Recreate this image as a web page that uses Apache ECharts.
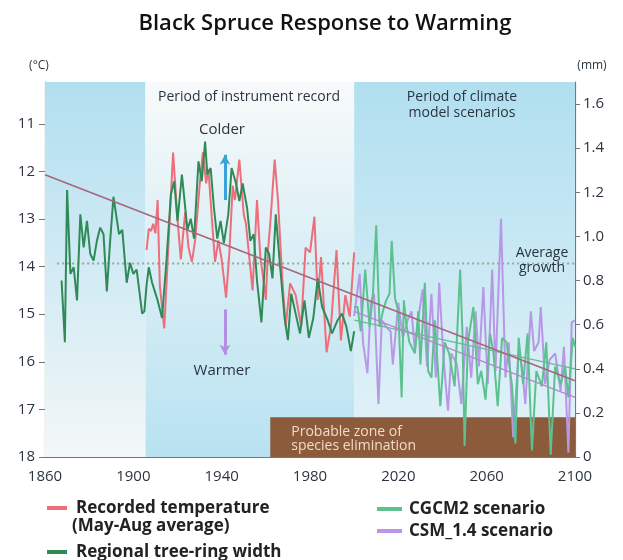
<!DOCTYPE html>
<html><head><meta charset="utf-8">
<script src="https://cdn.jsdelivr.net/npm/echarts@6/dist/echarts.min.js"></script>
<style>html,body{margin:0;padding:0;background:#fff}#c{width:623px;height:560px}</style>
</head><body><div id="c"></div>
<script>
// ---- data ----
const xTickYears = [1860, 1900, 1940, 1980, 2020, 2060, 2100];
const tempTicks = [11, 12, 13, 14, 15, 16, 17, 18];
const mmTicks = [0, 0.2, 0.4, 0.6, 0.8, 1.0, 1.2, 1.4, 1.6];

const tempYears = [1906,1907,1908,1909,1910,1911,1912,1914,1916,1918,1920,1921.5,1923.5,1925,1926.5,1928,1930,1931.5,1933,1934,1935.5,1937,1938.5,1940,1942,1943.5,1945,1946,1948,1950,1951,1952.5,1954,1956,1957.5,1959,1960,1961,1962,1964,1965.5,1967.5,1969,1971,1973.5,1976,1978,1980,1982,1983.5,1985,1987.5,1989.5,1992,1994,1996,1998,2000];
const tempValues = [13.65,13.2,13.25,13.1,13.3,12.6,14.4,15.3,13.45,11.6,13.0,13.85,12.85,13.6,13.9,13.45,12.3,11.6,12.25,11.95,12.95,13.9,13.45,13.85,14.65,13.7,12.3,12.6,11.75,12.9,13.1,13.8,14.5,12.6,13.8,14.3,14.7,13.65,13.1,11.75,12.6,14.3,15.25,14.35,14.6,15.25,13.6,13.7,12.95,14.7,13.8,15.8,15.25,13.65,15.55,14.6,15.05,13.7];

const ringYears = [1867.5,1869,1870,1871.5,1873,1874.5,1876,1877.5,1879,1880.5,1882,1883.5,1885,1886.5,1888,1889.5,1891,1893.5,1895,1897,1898.5,1900,1901.5,1904,1905,1906,1907,1908.5,1911,1913,1915,1917,1918.5,1920,1922,1924.5,1926,1927.5,1929.5,1931,1932.5,1933.5,1935,1936.5,1938,1939.5,1941,1943,1944.5,1946.5,1948,1949.5,1951.5,1953,1954.5,1956,1958,1960,1961.5,1963,1964.5,1966.5,1968.5,1970,1971.5,1973.5,1975.5,1977.5,1979.5,1981.5,1983.5,1985.5,1988,1990,1992.5,1994.5,1996.5,1998.5,2000];
const ringValues = [0.80,0.52,1.21,0.83,0.86,0.71,1.10,0.95,1.07,0.92,0.89,0.98,1.04,1.01,0.75,0.98,1.18,1.01,1.03,0.79,0.88,0.83,0.85,0.65,0.66,0.78,0.86,0.79,0.71,0.63,0.89,1.19,1.25,1.07,1.28,1.03,1.08,0.99,1.34,1.25,1.43,1.28,1.31,1.13,0.99,1.07,0.97,1.10,1.31,1.24,1.16,1.24,1.13,0.98,1.01,0.80,0.61,0.95,0.92,0.81,1.10,0.86,0.63,0.53,0.74,0.65,0.56,0.71,0.54,0.63,0.81,0.68,0.62,0.56,0.62,0.65,0.59,0.48,0.57];

const cgcmYears = [2000,2001.5,2003,2005,2007,2008.5,2010,2011.5,2013,2014.5,2016,2017,2018.5,2020,2021.5,2022.5,2023.5,2025,2027.5,2029,2030,2032,2033.5,2035,2036.5,2039,2041,2043,2045.5,2048,2049,2050,2051.5,2054,2056,2057.5,2059.5,2061.5,2063,2065,2067,2069,2071.5,2073,2074.5,2076.5,2078.5,2080.5,2082.5,2085,2087,2089,2091,2093.5,2095.5,2097,2099,2100];
const cgcmValues = [0.68,0.68,0.57,0.85,0.59,0.74,1.05,0.59,0.66,0.71,0.74,0.98,0.72,0.66,0.27,0.71,0.61,0.52,0.47,0.66,0.42,0.79,0.39,0.36,0.62,0.23,0.52,0.47,0.32,0.85,0.57,0.05,0.52,0.68,0.33,0.39,0.26,0.56,0.48,0.23,0.54,0.52,0.32,0.06,0.54,0.33,0.56,0.03,0.39,0.32,0.52,0.01,0.41,0.33,0.41,0.27,0.54,0.50];

const csmYears = [2000,2002.5,2004,2006,2007.5,2009,2011,2012.5,2014.5,2016.5,2017.5,2020,2022,2024.5,2026,2027.5,2029.5,2031,2033,2035,2037,2038.5,2040.5,2042.5,2044,2046.5,2048.5,2051,2053,2055,2056.5,2058.5,2060.5,2062.5,2064,2066.5,2068.5,2070,2072,2074.5,2076,2077.5,2080,2081.5,2083.5,2084.5,2086.5,2088.5,2091,2093.5,2095,2097,2098.5,2100];
const csmValues = [0.64,0.83,0.52,0.38,0.70,0.74,0.24,0.62,0.59,0.57,0.42,0.70,0.54,0.63,0.66,0.48,0.66,0.76,0.41,0.74,0.36,0.79,0.44,0.21,0.47,0.42,0.24,0.59,0.36,0.66,0.41,0.77,0.33,0.85,0.39,1.08,0.36,0.52,0.09,0.48,0.41,0.24,0.66,0.48,0.52,0.68,0.33,0.44,0.47,0.30,0.50,0.02,0.61,0.62];

const trendYears = [1860, 2100];
const trendTemp = [12.07, 16.4];
const cgcmTrendYears = [2000, 2100];
const cgcmTrendValues = [0.62, 0.40];
const csmTrendYears = [2000, 2100];
const csmTrendValues = [0.66, 0.27];
const avgGrowthYears = [1865.5, 2100];
const avgGrowthValue = 0.877;

const periods = [1860, 1905.5, 2000, 2100];
const eliminationZone = { from: 1962, to: 2100, top: 0.18 };
const colderArrow = { year: 1941.5, from: 12.6, to: 11.65 };
const warmerArrow = { year: 1941.5, from: 14.9, to: 15.85 };

// ---- helpers ----
const zip = (a, b) => a.map((x, i) => [x, b[i]]);
const FONT = '"Open Sans", Lato, sans-serif';
const TXT = '#2b3440';

const chart = echarts.init(document.getElementById('c'), null, { renderer: 'canvas' });

const grad = (top, bottom) => ({
  type: 'linear', x: 0, y: 0, x2: 0, y2: 1,
  colorStops: [{ offset: 0, color: top }, { offset: 1, color: bottom }]
});

const option = {
  backgroundColor: '#fff',
  animation: false,
  textStyle: { fontFamily: FONT },
  title: {
    text: 'Black Spruce Response to Warming',
    left: 320, textAlign: 'center', top: 8,
    textStyle: { fontFamily: FONT, fontSize: 22, fontWeight: 600, color: '#111' }
  },
  grid: { left: 45, right: 48, top: 82, bottom: 103, containLabel: false },
  xAxis: {
    type: 'value', min: 1860, max: 2100, interval: 40,
    axisLine: { show: true, lineStyle: { color: '#777', width: 1.2 } },
    axisTick: { show: true, inside: true, length: 4, lineStyle: { color: '#777' } },
    axisLabel: { formatter: v => String(v), fontSize: 15, color: TXT, margin: 12, fontFamily: FONT },
    splitLine: { show: false }
  },
  yAxis: [
    {
      type: 'value', inverse: true, min: 10.12, max: 18, position: 'left',
      axisLine: { show: true, lineStyle: { color: '#777', width: 1.2 } },
      axisTick: { show: true, length: 6, customValues: tempTicks, lineStyle: { color: '#777' } },
      axisLabel: { customValues: tempTicks, fontSize: 15, color: TXT, margin: 10, fontFamily: FONT },
      splitLine: { show: false }
    },
    {
      type: 'value', min: 0, max: 1.7, position: 'right',
      axisLine: { show: true, lineStyle: { color: '#777', width: 1.2 } },
      axisTick: { show: true, length: 5, customValues: mmTicks, lineStyle: { color: '#777' } },
      axisLabel: {
        customValues: mmTicks, fontSize: 15, color: TXT, margin: 8, fontFamily: FONT,
        formatter: v => (v === 0 ? '0' : Number(v).toFixed(1))
      },
      splitLine: { show: false }
    }
  ],
  legend: [
    {
      orient: 'vertical', left: 42, top: 492, height: 80, itemWidth: 20, itemHeight: 4, itemGap: 22,
      icon: 'rect',
      data: ['Recorded temperature', 'Regional tree-ring width'],
      textStyle: { fontFamily: FONT, fontSize: 17, fontWeight: 'bold', color: '#222', lineHeight: 22, padding: [0, 0, 0, 4] }
    },
    {
      orient: 'vertical', left: 372, top: 493, height: 80, itemWidth: 25, itemHeight: 4, itemGap: 0,
      icon: 'rect',
      data: ['CGCM2 scenario', 'CSM_1.4 scenario'],
      textStyle: { fontFamily: FONT, fontSize: 17, fontWeight: 'bold', color: '#222', lineHeight: 22, padding: [0, 0, 0, 2] }
    }
  ],
  graphic: [
    { type: 'text', x: 72, y: 526, style: { text: '(May-Aug average)', font: 'bold 17px ' + FONT, fill: '#222', verticalAlign: 'middle' } },
    { type: 'text', x: 39, y: 66, style: { text: '(°C)', font: '12px ' + FONT, fill: TXT, align: 'center', verticalAlign: 'middle' } },
    { type: 'text', x: 592, y: 66, style: { text: '(mm)', font: '12px ' + FONT, fill: TXT, align: 'center', verticalAlign: 'middle' } },
    { type: 'text', x: 249, y: 97, z: 20, style: { text: 'Period of instrument record', font: '14px ' + FONT, fill: TXT, align: 'center', verticalAlign: 'middle' } },
    { type: 'text', x: 462, y: 105, z: 20, style: { text: 'Period of climate\nmodel scenarios', font: '14px ' + FONT, lineHeight: 16, fill: TXT, align: 'center', verticalAlign: 'middle' } },
    { type: 'text', x: 222, y: 130, z: 20, style: { text: 'Colder', font: '15px ' + FONT, fill: TXT, align: 'center', verticalAlign: 'middle' } },
    { type: 'text', x: 222, y: 371, z: 20, style: { text: 'Warmer', font: '15px ' + FONT, fill: TXT, align: 'center', verticalAlign: 'middle' } },
    { type: 'text', x: 542, y: 261, z: 20, style: { text: 'Average\ngrowth', font: '14px ' + FONT, lineHeight: 15, fill: TXT, align: 'center', verticalAlign: 'middle' } }
  ],
  series: [
    {
      name: 'bg', type: 'line', data: [], z: 0, silent: true,
      markArea: {
        silent: true,
        data: [
          [{ xAxis: periods[0], itemStyle: { color: grad('#b1dff0', '#f3f7f8') } }, { xAxis: periods[1] }],
          [{ xAxis: periods[1], itemStyle: { color: grad('#f8fafa', '#b8e2f1') } }, { xAxis: periods[2] }],
          [{ xAxis: periods[2], itemStyle: { color: grad('#b1dff0', '#e4f3f8') } }, { xAxis: periods[3] }]
        ]
      }
    },
    {
      name: 'zone', type: 'line', yAxisIndex: 1, data: [], z: 1, silent: true,
      markArea: {
        silent: true,
        itemStyle: { color: '#8c5b3b' },
        label: {
          show: true, position: 'insideLeft', offset: [16, 2],
          formatter: 'Probable zone of\nspecies elimination',
          fontFamily: FONT, fontSize: 14, lineHeight: 14, color: '#f0dcc8'
        },
        data: [[{ xAxis: eliminationZone.from, yAxis: 0 }, { xAxis: eliminationZone.to, yAxis: eliminationZone.top }]]
      }
    },
    {
      name: 'avg', type: 'line', yAxisIndex: 1, z: 2, silent: true, symbol: 'none',
      data: avgGrowthYears.map(y => [y, avgGrowthValue]),
      lineStyle: { color: '#8fa9a0', width: 2, type: [2, 3] }
    },
    {
      name: 'Recorded temperature', type: 'line', yAxisIndex: 0, z: 4, symbol: 'none',
      data: zip(tempYears, tempValues),
      color: '#ee6e7b', lineStyle: { width: 2, color: '#ee6e7b' }
    },
    {
      name: 'Regional tree-ring width', type: 'line', yAxisIndex: 1, z: 5, symbol: 'none',
      data: zip(ringYears, ringValues),
      color: '#2f8a57', lineStyle: { width: 2, color: '#2f8a57' }
    },
    {
      name: 'CSM_1.4 scenario', type: 'line', yAxisIndex: 1, z: 4, symbol: 'none',
      data: zip(csmYears, csmValues),
      color: '#b797e6', lineStyle: { width: 2, color: '#b797e6' }
    },
    {
      name: 'CGCM2 scenario', type: 'line', yAxisIndex: 1, z: 5, symbol: 'none',
      data: zip(cgcmYears, cgcmValues),
      color: '#5cc18f', lineStyle: { width: 2, color: '#5cc18f' }
    },
    {
      name: 'trend-cgcm', type: 'line', yAxisIndex: 1, z: 6, symbol: 'none', silent: true,
      data: zip(cgcmTrendYears, cgcmTrendValues),
      lineStyle: { width: 1.3, color: '#6fb59a' }
    },
    {
      name: 'trend-csm', type: 'line', yAxisIndex: 1, z: 6, symbol: 'none', silent: true,
      data: zip(csmTrendYears, csmTrendValues),
      lineStyle: { width: 1.3, color: '#b08ac8' }
    },
    {
      name: 'trend', type: 'line', yAxisIndex: 0, z: 7, symbol: 'none', silent: true,
      data: zip(trendYears, trendTemp),
      lineStyle: { width: 1.6, color: '#a8677a' }
    },
    {
      name: 'arrows', type: 'line', yAxisIndex: 0, data: [], z: 8, silent: true,
      markLine: {
        silent: true, symbol: ['none', 'arrow'], symbolSize: [8, 10],
        label: { show: false },
        data: [
          [{ coord: [colderArrow.year, colderArrow.from], lineStyle: { color: '#39a3d9', width: 3, type: 'solid' } },
           { coord: [colderArrow.year, colderArrow.to] }],
          [{ coord: [warmerArrow.year, warmerArrow.from], lineStyle: { color: '#b28fe3', width: 3, type: 'solid' } },
           { coord: [warmerArrow.year, warmerArrow.to] }]
        ]
      }
    }
  ]
};
chart.setOption(option);
</script></body></html>
